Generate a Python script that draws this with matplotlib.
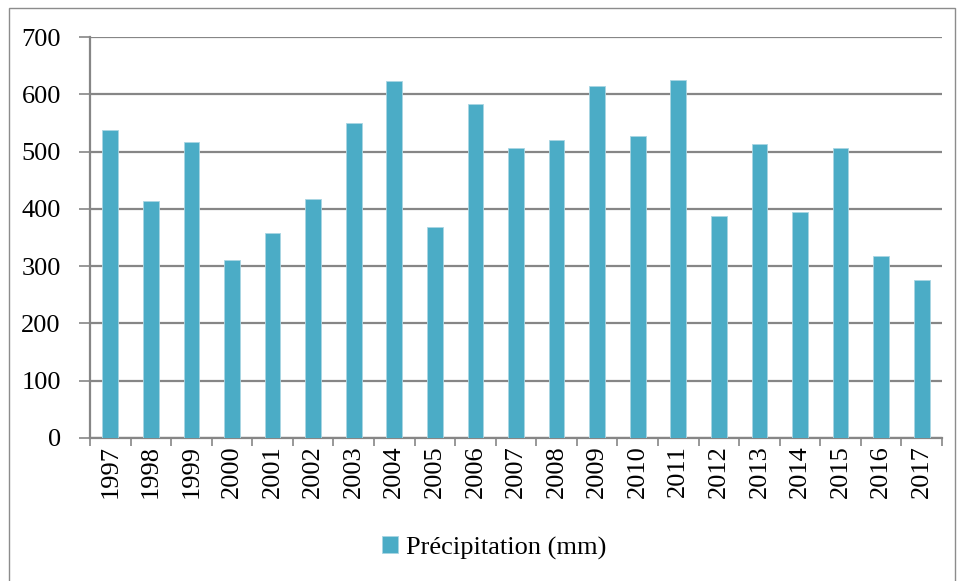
import matplotlib.pyplot as plt
import numpy as np
from matplotlib.patches import Rectangle

# Annual precipitation values
years = ['1997', '1998', '1999', '2000', '2001', '2002', '2003', '2004', '2005', '2006',
         '2007', '2008', '2009', '2010', '2011', '2012', '2013', '2014', '2015', '2016', '2017']
precipitation = [537, 413, 516, 310, 357, 417, 550, 623, 368, 583,
                 507, 520, 614, 528, 625, 387, 514, 394, 507, 318, 275]
y_ticks = [0, 100, 200, 300, 400, 500, 600, 700]

plt.rcParams['font.family'] = ['Liberation Serif', 'DejaVu Serif']

fig = plt.figure(figsize=(9.62, 5.81), dpi=100)
ax = fig.add_axes([90 / 962, 1 - 438 / 581, 852 / 962, 401 / 581])

# Outer chart border
fig.patches.append(Rectangle((9 / 962, -0.05), 946 / 962, 1 - 8 / 581 + 0.05,
                             transform=fig.transFigure, fill=False,
                             edgecolor='#8c8c8c', linewidth=1.0))

x = np.arange(len(years))
ax.bar(x, precipitation, width=0.39, color='#4BACC6', edgecolor='#a9d6e3',
       linewidth=0.6, label='Précipitation (mm)', zorder=3)

ax.set_xlim(-0.5, len(years) - 0.5)
ax.set_ylim(0, 700)
ax.set_yticks(y_ticks)
ax.yaxis.grid(True, color='#868686', linewidth=1.6, zorder=0)

ax.set_xticks(x)
ax.set_xticklabels(years, rotation=90, fontsize=19)
ax.set_xticks(np.arange(-0.5, len(years)), minor=True)
ax.tick_params(axis='x', which='major', length=0, pad=5)
ax.tick_params(axis='x', which='minor', length=6, color='#868686', width=1.2)
ax.tick_params(axis='y', length=8, color='#868686', width=1.2, labelsize=19, pad=13)

for side in ['top', 'right']:
    ax.spines[side].set_visible(False)
for side in ['left', 'bottom']:
    ax.spines[side].set_color('#868686')
    ax.spines[side].set_linewidth(1.6)

fig.legend(loc='center', bbox_to_anchor=(494 / 962, 1 - 548 / 581), frameon=False,
           fontsize=19, handlelength=0.6, handleheight=0.6, handletextpad=0.3)

plt.savefig('out.png', dpi=100)
